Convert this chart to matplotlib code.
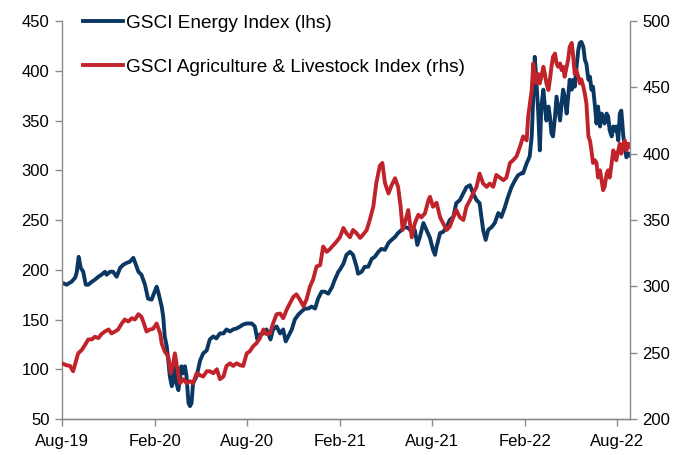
import matplotlib
matplotlib.use("Agg")
import matplotlib.pyplot as plt
import matplotlib.dates as mdates
import pandas as pd

plt.rcParams["font.family"] = ["Liberation Sans", "DejaVu Sans"]

# Time axis: days counted from 1 Aug 2019
start = pd.Timestamp("2019-08-01")

# GSCI Energy Index (lhs)
energy_day = [0, 9, 19, 26, 29, 33, 37, 42, 47, 52, 59, 65, 72, 78, 85, 88, 95, 101, 108, 115,
              121, 128, 134, 141, 144, 151, 157, 164, 170, 177, 187, 190, 197, 200, 203, 207, 210,
              213, 217, 220, 223, 226, 230, 233, 236, 240, 243, 246, 250, 253, 256, 259, 266, 273,
              279, 286, 292, 299, 305, 312, 319, 325, 332, 338, 345, 352, 358, 365, 375, 381, 386,
              391, 398, 404, 412, 417, 424, 431, 437, 442, 447, 454, 460, 467, 473, 480, 487, 493,
              500, 506, 513, 519, 526, 533, 539, 546, 549, 556, 562, 569, 575, 582, 585, 592, 598,
              605, 612, 618, 625, 631, 638, 645, 651, 658, 664, 671, 677, 684, 691, 697, 702, 707,
              714, 720, 727, 733, 737, 740, 747, 753, 760, 766, 773, 779, 786, 793, 799, 806, 812,
              819, 825, 832, 837, 842, 849, 855, 862, 868, 875, 881, 888, 895, 901, 908, 911, 918,
              924, 928, 931, 934, 937, 941, 944, 947, 951, 954, 957, 961, 964, 967, 970, 974, 977,
              980, 984, 987, 990, 993, 997, 1000, 1003, 1007, 1010, 1013, 1016, 1020, 1023, 1026,
              1030, 1033, 1036, 1040, 1043, 1046, 1049, 1053, 1056, 1059, 1063, 1066, 1069, 1072,
              1076, 1079, 1082, 1086, 1089, 1092, 1095, 1099, 1102, 1105, 1109, 1112, 1115, 1119, 1122]
energy_val = [187, 185, 188, 192, 197, 213, 202, 198, 185, 185, 188, 190, 193, 195, 198, 195, 198,
              198, 193, 202, 205, 207, 208, 212, 208, 198, 195, 185, 171, 170, 183, 178, 163, 153,
              133, 123, 109, 93, 83, 90, 103, 86, 79, 90, 103, 96, 103, 93, 66, 63, 66, 86, 93, 109,
              116, 119, 130, 133, 131, 136, 136, 140, 138, 140, 141, 143, 145, 146, 146, 143, 130,
              135, 136, 140, 130, 140, 143, 136, 140, 128, 133, 140, 150, 155, 158, 161, 161, 163,
              161, 171, 178, 178, 176, 182, 190, 198, 200, 206, 215, 218, 215, 203, 196, 198, 203,
              203, 211, 213, 218, 221, 220, 227, 230, 233, 237, 240, 243, 242, 238, 240, 225, 233,
              247, 240, 232, 220, 215, 223, 237, 238, 243, 250, 253, 267, 270, 277, 283, 285, 277,
              270, 267, 240, 230, 240, 243, 247, 257, 253, 263, 273, 283, 290, 295, 297, 297, 307,
              314, 334, 374, 414, 391, 357, 320, 364, 381, 364, 350, 364, 354, 337, 334, 354, 374,
              364, 350, 367, 381, 374, 357, 374, 391, 381, 391, 384, 401, 421, 428, 429, 424, 411,
              407, 391, 394, 381, 384, 364, 347, 364, 344, 357, 354, 347, 357, 354, 340, 334, 344,
              340, 344, 330, 357, 360, 334, 324, 313, 317, 315]

# GSCI Agriculture & Livestock Index (rhs)
agri_day = [0, 9, 16, 22, 28, 32, 39, 45, 52, 59, 65, 72, 78, 85, 92, 98, 105, 111, 118, 124,
            131, 138, 144, 151, 157, 162, 167, 174, 180, 187, 194, 197, 203, 210, 215, 219, 223,
            227, 233, 240, 246, 253, 259, 266, 273, 279, 286, 292, 299, 306, 312, 319, 325, 332,
            338, 345, 352, 358, 365, 371, 378, 384, 391, 398, 404, 411, 417, 424, 431, 437, 444,
            450, 457, 463, 470, 477, 483, 490, 496, 503, 510, 516, 523, 529, 536, 542, 549, 556,
            562, 569, 575, 582, 589, 595, 602, 608, 615, 621, 628, 633, 638, 645, 651, 658, 664,
            669, 673, 677, 684, 691, 697, 704, 710, 717, 724, 727, 733, 740, 747, 753, 760, 766,
            773, 779, 786, 793, 799, 806, 812, 819, 825, 832, 839, 845, 852, 858, 865, 872, 878,
            885, 891, 898, 905, 911, 918, 921, 928, 931, 934, 937, 941, 944, 947, 951, 954, 957,
            961, 964, 967, 970, 974, 977, 980, 984, 987, 990, 993, 997, 1000, 1003, 1007, 1010,
            1013, 1016, 1020, 1023, 1026, 1030, 1033, 1036, 1040, 1043, 1046, 1049, 1053, 1056,
            1059, 1063, 1066, 1069, 1072, 1076, 1079, 1082, 1086, 1089, 1092, 1095, 1099, 1102,
            1105, 1109, 1112, 1115, 1119, 1122]
agri_val = [242, 240.5, 240, 236, 244, 249.5, 252, 255.5, 260, 260, 262, 261, 264, 266, 267.5,
            264.5, 266, 267.5, 272, 275, 273.5, 276, 275, 279, 277, 272, 266, 267.5, 268, 272,
            264.5, 257, 251, 247, 234.5, 240, 249.5, 240, 227, 230, 227, 228.5, 227, 234.5, 233,
            232, 236, 236, 234.5, 237.5, 230, 232, 240, 242, 240, 242, 240.5, 240, 249.5, 251,
            255, 257, 261, 267.5, 264, 264.5, 272, 279, 279.5, 276, 282.5, 287, 292, 294, 290,
            285, 290, 300, 305, 315, 316, 330, 326, 328, 331, 333.5, 337, 344, 340, 337, 342.5,
            340, 336.5, 339, 342.5, 350, 360, 378, 391, 393, 378, 370, 376, 381.5, 375, 360,
            342.5, 347.5, 357.5, 337, 347.5, 354, 352, 355, 365, 367.5, 360, 363, 352, 347.5,
            342.5, 345, 352, 357.5, 352, 350, 360, 365, 370, 375, 385, 377.5, 375, 377.5, 375,
            384, 382, 380, 382, 393, 395, 398, 405.5, 413, 410, 428, 448, 468, 460, 453, 460,
            453, 458, 465.5, 460, 453, 448, 456, 465.5, 473, 475.5, 468, 465.5, 468, 463, 465.5,
            458, 465.5, 471, 480.5, 483.5, 473, 460, 463, 458, 453, 456, 450.5, 445, 438, 413,
            410, 402.5, 393, 395, 393, 382, 387.5, 380, 372.5, 375, 385, 387.5, 382, 393, 402.5,
            400, 395, 402.5, 407.5, 400, 407.5, 410, 402.5, 407.5, 405.5]

tick_dates = ["2019-08-01", "2020-02-01", "2020-08-01", "2021-02-01",
              "2021-08-01", "2022-02-01", "2022-08-01"]

energy_dates = start + pd.to_timedelta(energy_day, unit="D")
agri_dates = start + pd.to_timedelta(agri_day, unit="D")

blue = "#0b3763"
red = "#c1232b"
grey = "#8c8c8c"

fig = plt.figure(figsize=(6.78, 4.55), dpi=100)
ax = fig.add_axes([0.0914, 0.0791, 0.8377, 0.8747])
ax2 = ax.twinx()

l1, = ax.plot(energy_dates, energy_val, color=blue, lw=2.8, label="GSCI Energy Index (lhs)")
l2, = ax2.plot(agri_dates, agri_val, color=red, lw=2.8,
               label="GSCI Agriculture & Livestock Index (rhs)")

ax.set_xlim(start, start + pd.Timedelta(days=1122))
ax.set_ylim(50, 450)
ax.set_yticks(range(50, 451, 50))
ax2.set_ylim(200, 500)
ax2.set_yticks(range(200, 501, 50))
ax.set_xticks(pd.to_datetime(tick_dates))
ax.xaxis.set_major_formatter(mdates.DateFormatter("%b-%y"))

for a in (ax, ax2):
    for s in a.spines.values():
        s.set_color(grey)
        s.set_linewidth(1.0)
    a.spines["top"].set_visible(False)
    a.tick_params(colors=grey, labelcolor="black", labelsize=12, length=5, width=1.0)
ax.spines["right"].set_visible(False)
ax2.spines["left"].set_visible(False)
ax.tick_params(axis="y", pad=4)
ax.tick_params(axis="x", pad=6)
ax2.tick_params(axis="y", pad=4)

leg = ax2.legend(handles=[l1, l2], loc="upper left", bbox_to_anchor=(0.037, 1.017),
                 frameon=False, fontsize=13.7, handlelength=2.1, handletextpad=0.15,
                 labelspacing=1.4, borderaxespad=0, borderpad=0)

fig.savefig("out.png", dpi=100)
